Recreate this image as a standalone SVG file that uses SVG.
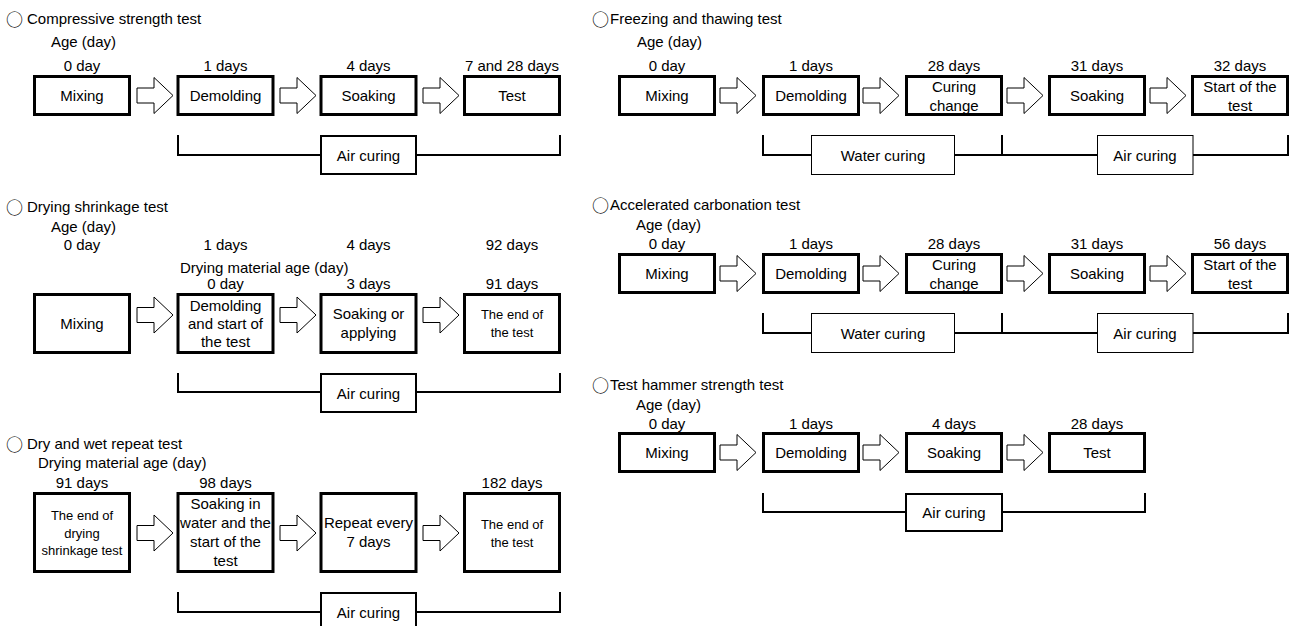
<svg xmlns="http://www.w3.org/2000/svg" xmlns:xlink="http://www.w3.org/1999/xlink" width="1291" height="626" viewBox="0 0 1291 626">
<style>
text{font-family:"Liberation Sans",Arial,sans-serif;font-size:15px;fill:#000}
.c{text-anchor:middle}
.s{font-size:13px}
.circ{font-family:"Noto Sans CJK JP","DejaVu Sans",sans-serif;font-size:17px}
.box{fill:#fff;stroke:#000;stroke-width:3}
.cure{fill:#fff;stroke:#000;stroke-width:2}
.cure1{fill:#fff;stroke:#000;stroke-width:1}
.br{fill:none;stroke:#000;stroke-width:2}
.arr{fill:#fff;stroke:#000;stroke-width:1}
</style>
<defs>
<polygon id="arrow" class="arr" points="0,-7.5 17,-7.5 17,-18 36,0 17,18 17,7.5 0,7.5"/>
</defs>
<rect width="1291" height="626" fill="#fff"/>

<!-- Titles and age labels -->
<g id="labels">
<text x="6" y="25.5"><tspan class="circ">○</tspan><tspan x="27" y="24">Compressive strength test</tspan></text>
<text x="51" y="47">Age (day)</text>
<text class="c" x="82" y="71">0 day</text>
<text class="c" x="225.5" y="71">1 days</text>
<text class="c" x="368.5" y="71">4 days</text>
<text class="c" x="512" y="71">7 and 28 days</text>

<text x="6" y="213.5"><tspan class="circ">○</tspan><tspan x="27" y="212">Drying shrinkage test</tspan></text>
<text x="51" y="232">Age (day)</text>
<text class="c" x="82" y="250">0 day</text>
<text class="c" x="225.5" y="250">1 days</text>
<text class="c" x="368.5" y="250">4 days</text>
<text class="c" x="512" y="250">92 days</text>
<text x="180" y="273">Drying material age (day)</text>
<text class="c" x="225.5" y="289">0 day</text>
<text class="c" x="368.5" y="289">3 days</text>
<text class="c" x="512" y="289">91 days</text>

<text x="6" y="450.5"><tspan class="circ">○</tspan><tspan x="27" y="449">Dry and wet repeat test</tspan></text>
<text x="38" y="468">Drying material age (day)</text>
<text class="c" x="82" y="488">91 days</text>
<text class="c" x="225.5" y="488">98 days</text>
<text class="c" x="512" y="488">182 days</text>

<text x="592" y="25.5"><tspan class="circ">○</tspan><tspan x="610" y="24">Freezing and thawing test</tspan></text>
<text x="637" y="47">Age (day)</text>
<text class="c" x="667" y="71">0 day</text>
<text class="c" x="811" y="71">1 days</text>
<text class="c" x="954" y="71">28 days</text>
<text class="c" x="1097" y="71">31 days</text>
<text class="c" x="1240" y="71">32 days</text>

<text x="592" y="211.5"><tspan class="circ">○</tspan><tspan x="610" y="210">Accelerated carbonation test</tspan></text>
<text x="636" y="230">Age (day)</text>
<text class="c" x="667" y="249">0 day</text>
<text class="c" x="811" y="249">1 days</text>
<text class="c" x="954" y="249">28 days</text>
<text class="c" x="1097" y="249">31 days</text>
<text class="c" x="1240" y="249">56 days</text>

<text x="592" y="391.5"><tspan class="circ">○</tspan><tspan x="610" y="390">Test hammer strength test</tspan></text>
<text x="636" y="410">Age (day)</text>
<text class="c" x="667" y="429">0 day</text>
<text class="c" x="811" y="429">1 days</text>
<text class="c" x="954" y="429">4 days</text>
<text class="c" x="1097" y="429">28 days</text>
</g>

<!-- Connectors -->
<g id="connectors">
<use xlink:href="#arrow" x="137" y="95.5"/>
<use xlink:href="#arrow" x="280" y="95.5"/>
<use xlink:href="#arrow" x="423" y="95.5"/>
<use xlink:href="#arrow" x="137" y="315"/>
<use xlink:href="#arrow" x="280" y="315"/>
<use xlink:href="#arrow" x="423" y="315"/>
<use xlink:href="#arrow" x="137" y="533"/>
<use xlink:href="#arrow" x="280" y="533"/>
<use xlink:href="#arrow" x="423" y="533"/>
<use xlink:href="#arrow" x="720" y="95.5"/>
<use xlink:href="#arrow" x="863" y="95.5"/>
<use xlink:href="#arrow" x="1007" y="95.5"/>
<use xlink:href="#arrow" x="1150" y="95.5"/>
<use xlink:href="#arrow" x="720" y="273.5"/>
<use xlink:href="#arrow" x="863" y="273.5"/>
<use xlink:href="#arrow" x="1007" y="273.5"/>
<use xlink:href="#arrow" x="1150" y="273.5"/>
<use xlink:href="#arrow" x="720" y="452.5"/>
<use xlink:href="#arrow" x="863" y="452.5"/>
<use xlink:href="#arrow" x="1007" y="452.5"/>
<path class="br" d="M178,135V155H321M416,155H560V135"/>
<path class="br" d="M178,373V392H321M416,392H560V373"/>
<path class="br" d="M178,592V612H321M416,612H560V592"/>
<path class="br" d="M763,135V155H811M955,155H1097M1002,135V155M1193,155H1288V135"/>
<path class="br" d="M763,313V333H811M955,333H1097M1002,313V333M1193,333H1288V313"/>
<path class="br" d="M763,493V512H906M1002,512H1145V493"/>
</g>

<!-- Section 1: Compressive strength test -->
<g id="s1-mixing"><rect class="box" x="34.5" y="76.5" width="95" height="38"/><text class="c" x="82" y="101">Mixing</text></g>
<g id="s1-demolding"><rect class="box" x="178" y="76.5" width="95" height="38"/><text class="c" x="225.5" y="101">Demolding</text></g>
<g id="s1-soaking"><rect class="box" x="321" y="76.5" width="95" height="38"/><text class="c" x="368.5" y="101">Soaking</text></g>
<g id="s1-test"><rect class="box" x="464.5" y="76.5" width="95" height="38"/><text class="c" x="512" y="101">Test</text></g>
<g id="s1-air"><rect class="cure" x="321" y="136" width="95" height="38"/><text class="c" x="368.5" y="160.5">Air curing</text></g>

<!-- Section 2: Drying shrinkage test -->
<g id="s2-mixing"><rect class="box" x="34.5" y="294.5" width="95" height="58"/><text class="c" x="82" y="329">Mixing</text></g>
<g id="s2-demolding"><rect class="box" x="178" y="294.5" width="95" height="58"/><text class="c" x="225.5" y="311">Demolding</text><text class="c" x="225.5" y="329">and start of</text><text class="c" x="225.5" y="347">the test</text></g>
<g id="s2-soaking"><rect class="box" x="321" y="294.5" width="95" height="58"/><text class="c" x="368.5" y="319">Soaking or</text><text class="c" x="368.5" y="338">applying</text></g>
<g id="s2-end"><rect class="box" x="464.5" y="294.5" width="95" height="58"/><text class="c s" x="512" y="319">The end of</text><text class="c s" x="512" y="337">the test</text></g>
<g id="s2-air"><rect class="cure" x="321" y="374" width="95" height="38"/><text class="c" x="368.5" y="398.5">Air curing</text></g>

<!-- Section 3: Dry and wet repeat test -->
<g id="s3-enddry"><rect class="box" x="34.5" y="493.5" width="95" height="78"/><text class="c s" x="82" y="520">The end of</text><text class="c s" x="82" y="537.5">drying</text><text class="c s" x="82" y="555">shrinkage test</text></g>
<g id="s3-soaking"><rect class="box" x="178" y="493.5" width="95" height="78"/><text class="c" x="225.5" y="509">Soaking in</text><text class="c" x="225.5" y="528">water and the</text><text class="c" x="225.5" y="547">start of the</text><text class="c" x="225.5" y="566">test</text></g>
<g id="s3-repeat"><rect class="box" x="321" y="493.5" width="95" height="78"/><text class="c" x="368.5" y="528">Repeat every</text><text class="c" x="368.5" y="547">7 days</text></g>
<g id="s3-end"><rect class="box" x="464.5" y="493.5" width="95" height="78"/><text class="c s" x="512" y="529">The end of</text><text class="c s" x="512" y="547">the test</text></g>
<g id="s3-air"><rect class="cure" x="321" y="593" width="95" height="38"/><text class="c" x="368.5" y="617.5">Air curing</text></g>

<!-- Section 4: Freezing and thawing test -->
<g id="s4-mixing"><rect class="box" x="619.5" y="76.5" width="95" height="38"/><text class="c" x="667" y="101">Mixing</text></g>
<g id="s4-demolding"><rect class="box" x="763.5" y="76.5" width="95" height="38"/><text class="c" x="811" y="101">Demolding</text></g>
<g id="s4-curing"><rect class="box" x="906.5" y="76.5" width="95" height="38"/><text class="c" x="954" y="92">Curing</text><text class="c" x="954" y="110.5">change</text></g>
<g id="s4-soaking"><rect class="box" x="1049.5" y="76.5" width="95" height="38"/><text class="c" x="1097" y="101">Soaking</text></g>
<g id="s4-start"><rect class="box" x="1192.5" y="76.5" width="95" height="38"/><text class="c" x="1240" y="92">Start of the</text><text class="c" x="1240" y="110.5">test</text></g>
<g id="s4-water"><rect class="cure1" x="811.5" y="135.5" width="143" height="39"/><text class="c" x="883" y="160.5">Water curing</text></g>
<g id="s4-air"><rect class="cure1" x="1097.5" y="135.5" width="95.5" height="39"/><text class="c" x="1145" y="160.5">Air curing</text></g>

<!-- Section 5: Accelerated carbonation test -->
<g id="s5-mixing"><rect class="box" x="619.5" y="254.5" width="95" height="38"/><text class="c" x="667" y="279">Mixing</text></g>
<g id="s5-demolding"><rect class="box" x="763.5" y="254.5" width="95" height="38"/><text class="c" x="811" y="279">Demolding</text></g>
<g id="s5-curing"><rect class="box" x="906.5" y="254.5" width="95" height="38"/><text class="c" x="954" y="270">Curing</text><text class="c" x="954" y="288.5">change</text></g>
<g id="s5-soaking"><rect class="box" x="1049.5" y="254.5" width="95" height="38"/><text class="c" x="1097" y="279">Soaking</text></g>
<g id="s5-start"><rect class="box" x="1192.5" y="254.5" width="95" height="38"/><text class="c" x="1240" y="270">Start of the</text><text class="c" x="1240" y="288.5">test</text></g>
<g id="s5-water"><rect class="cure1" x="811.5" y="313.5" width="143" height="39"/><text class="c" x="883" y="338.5">Water curing</text></g>
<g id="s5-air"><rect class="cure1" x="1097.5" y="313.5" width="95.5" height="39"/><text class="c" x="1145" y="338.5">Air curing</text></g>

<!-- Section 6: Test hammer strength test -->
<g id="s6-mixing"><rect class="box" x="619.5" y="433.5" width="95" height="38"/><text class="c" x="667" y="458">Mixing</text></g>
<g id="s6-demolding"><rect class="box" x="763.5" y="433.5" width="95" height="38"/><text class="c" x="811" y="458">Demolding</text></g>
<g id="s6-soaking"><rect class="box" x="906.5" y="433.5" width="95" height="38"/><text class="c" x="954" y="458">Soaking</text></g>
<g id="s6-test"><rect class="box" x="1049.5" y="433.5" width="95" height="38"/><text class="c" x="1097" y="458">Test</text></g>
<g id="s6-air"><rect class="cure" x="906" y="494" width="96" height="37"/><text class="c" x="954" y="518">Air curing</text></g>
</svg>
